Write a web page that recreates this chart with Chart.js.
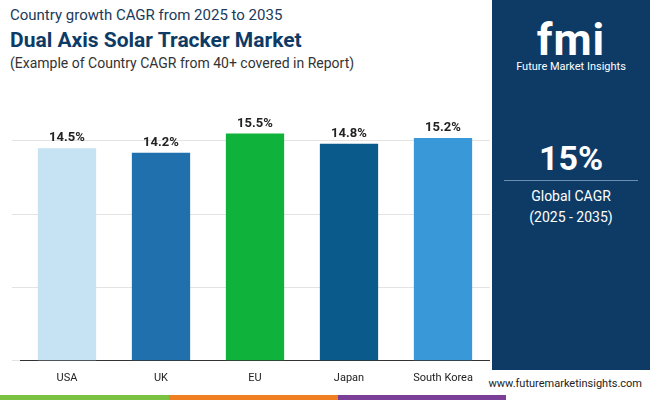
<!DOCTYPE html>
<html>
<head>
<script src="https://cdn.jsdelivr.net/npm/chart.js@4/dist/chart.umd.min.js"></script>
<style>
  body { margin:0; width:650px; height:400px; position:relative; font-family:Roboto, sans-serif; background:#fff; overflow:hidden; }
  #t1 { position:absolute; left:10px; top:6px; font-size:15px; color:#1a3a5c; }
  #t2 { position:absolute; left:10px; top:28px; font-size:21px; font-weight:bold; color:#0d3b66; }
  #t3 { position:absolute; left:10px; top:55px; font-size:14px; color:#333; }
  #panel { position:absolute; left:492px; top:0; width:158px; height:370px; background:#0d3b66; color:#fff; text-align:center; }
  #logo { position:absolute; top:14px; width:100%; font-size:44px; font-weight:bold; letter-spacing:1px; }
  #logoSub { position:absolute; top:60px; width:100%; font-size:11px; }
  #big { position:absolute; top:138px; width:100%; font-size:34px; font-weight:bold; }
  #line { position:absolute; top:180px; left:12px; width:134px; border-top:1px solid #6d8fb0; }
  #gl { position:absolute; top:186px; width:100%; font-size:14px; line-height:21px; }
  #url { position:absolute; right:8px; top:377px; font-size:11px; color:#222; }
  #strip { position:absolute; left:0; top:395px; width:650px; height:5px; display:flex; }
  #wrap { position:absolute; left:12px; top:106px; width:478px; height:282px; }
</style>
</head>
<body>
<div id="t1">Country growth CAGR from 2025 to 2035</div>
<div id="t2">Dual Axis Solar Tracker Market</div>
<div id="t3">(Example of Country CAGR from 40+ covered in Report)</div>
<div id="panel">
  <div id="logo">fmi</div>
  <div id="logoSub">Future Market Insights</div>
  <div id="big">15%</div>
  <div id="line"></div>
  <div id="gl">Global CAGR<br>(2025 - 2035)</div>
</div>
<div id="url">www.futuremarketinsights.com</div>
<div id="strip"><div style="flex:1;background:#7cc242"></div><div style="flex:1;background:#f07f22"></div><div style="flex:1;background:#7b3f98"></div><div style="flex:0.85;background:#fff"></div></div>
<div id="wrap"><canvas id="c"></canvas></div>
<script>
var countries = ['USA', 'UK', 'EU', 'Japan', 'South Korea'];
var cagr = [14.5, 14.2, 15.5, 14.8, 15.2];
var barColors = ['#c6e3f4', '#1f70ad', '#0fb23a', '#0a5a8c', '#3998d8'];

var valueLabels = {
  id: 'valueLabels',
  afterDatasetsDraw: function(chart) {
    var ctx = chart.ctx;
    ctx.save();
    ctx.font = 'bold 13px Roboto';
    ctx.fillStyle = '#222';
    ctx.textAlign = 'center';
    chart.getDatasetMeta(0).data.forEach(function(bar, i) {
      ctx.fillText(cagr[i].toFixed(1) + '%', bar.x, bar.y - 7);
    });
    ctx.restore();
  }
};

new Chart(document.getElementById('c'), {
  type: 'bar',
  data: { labels: countries, datasets: [{ data: cagr, backgroundColor: barColors, barPercentage: 0.62, categoryPercentage: 1 }] },
  options: {
    responsive: true, maintainAspectRatio: false, animation: false,
    layout: { padding: { top: 10 } },
    plugins: { legend: { display: false }, tooltip: { enabled: false } },
    scales: {
      x: { grid: { display: false }, border: { color: '#333' }, ticks: { color: '#222', font: { size: 11, family: 'Roboto' } } },
      y: { min: 0, max: 16.7, afterBuildTicks: function(s) { s.ticks = [0, 5, 10, 15].map(function(v) { return { value: v }; }); }, ticks: { display: false }, border: { display: false }, grid: { color: '#e3e3e3' } }
    }
  },
  plugins: [valueLabels]
});
</script>
</body>
</html>
